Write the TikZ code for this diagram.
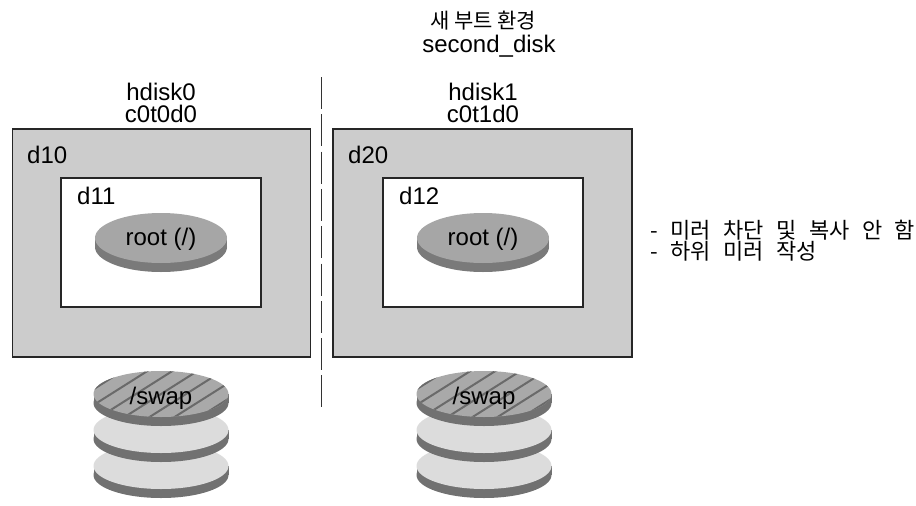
\documentclass[tikz,border=0pt]{standalone}
\usepackage{fontspec}
\setmainfont{Liberation Sans}
\newfontfamily\kr{Noto Sans CJK KR}
\newcommand\mynotefont{\kr\fontsize{22}{26}\selectfont\spaceskip 12.5pt\relax}
\definecolor{boxgray}{HTML}{CCCCCC}
\definecolor{rootface}{HTML}{A6A6A6}
\definecolor{rootrim}{HTML}{7A7A7A}
\definecolor{swaptop}{HTML}{A9A9A9}
\definecolor{hatchc}{HTML}{6A6A6A}
\definecolor{diskface}{HTML}{DCDCDC}
\definecolor{diskrim}{HTML}{717171}
\definecolor{dashc}{HTML}{333333}
\tikzset{
  outerbox/.style={draw=black!85, line width=1.2pt, fill=boxgray},
  innerbox/.style={draw=black!85, line width=1.2pt, fill=white},
  lat/.style={font=\fontsize{24}{28}\selectfont, inner sep=0pt},
  kor/.style={font=\kr\fontsize{21}{25}\selectfont, inner sep=0pt},
  kornote/.style={font=\mynotefont, inner sep=0pt},
  dashline/.style={draw=dashc, line width=1.4pt, dash pattern=on 32pt off 5.3pt},
  hatchline/.style={draw=hatchc, line width=2pt}
}
\newcommand\myrootdisk[2]{%
  \fill[rootrim] (#1,#2+9) ellipse [x radius=66, y radius=25];
  \fill[rootrim] (#1-66,#2) rectangle (#1+66,#2+9);
  \fill[rootface] (#1,#2) ellipse [x radius=66, y radius=25];
}
\newcommand\mydisk[3]{%
  \fill[diskrim] (#1,#2+9) ellipse [x radius=67.5, y radius=23];
  \fill[diskrim] (#1-67.5,#2) rectangle (#1+67.5,#2+9);
  \fill[#3] (#1,#2) ellipse [x radius=67.5, y radius=23];
}
\newcommand\myhatch[2]{%
  \begin{scope}
    \clip (#1,#2) ellipse [x radius=67.5, y radius=23];
    \foreach \i in {-3,...,3} {
      \draw[hatchline] (#1+\i*25-38,#2+24) -- ++(76,-48);
    }
  \end{scope}
}
\begin{document}
\begin{tikzpicture}[x=1pt,y=-1pt]
\useasboundingbox (0,0) rectangle (916,506);

% boxes
\draw[outerbox] (12.5,129) rectangle (310.5,357);
\draw[innerbox] (61,178) rectangle (261,307);
\draw[outerbox] (333,129) rectangle (632,357);
\draw[innerbox] (383,178) rectangle (583,307);

% dashed separator
\coordinate (septop) at (321.7,77);
\coordinate (sepbot) at (321.7,407.4);
\draw[dashline] (septop) -- (sepbot);

% root disks
\myrootdisk{161}{238}
\node[lat] (root0) at (161,239) {root (/)};
\myrootdisk{483}{238}
\node[lat] (root1) at (483,239) {root (/)};

% swap stacks
\mydisk{161}{466}{diskface}
\mydisk{161}{430}{diskface}
\mydisk{161}{394}{swaptop}
\myhatch{161}{394}
\node[lat, anchor=base] (swap0) at (161,404) {/swap};

\mydisk{484}{466}{diskface}
\mydisk{484}{430}{diskface}
\mydisk{484}{394}{swaptop}
\myhatch{484}{394}
\node[lat, anchor=base] (swap1) at (484,404) {/swap};

% labels
\node[lat, anchor=base] (hd0) at (161,100) {hdisk0};
\node[lat, anchor=base] (ct0) at (161,122) {c0t0d0};
\node[lat, anchor=base] (hd1) at (483,100) {hdisk1};
\node[lat, anchor=base] (ct1) at (483,122) {c0t1d0};
\node[kor, anchor=base] (newbe) at (483,28) {새 부트 환경};
\node[lat, anchor=base] (sd) at (489,52) {second\_disk};

\node[lat, anchor=base west] (d10) at (27,163) {d10};
\node[lat, anchor=base west] (d11) at (77,204) {d11};
\node[lat, anchor=base west] (d20) at (348,163) {d20};
\node[lat, anchor=base west] (d12) at (399,204) {d12};

\node[kornote, anchor=base west] (note1) at (650,238) {- 미러 차단 및 복사 안 함};
\node[kornote, anchor=base west] (note2) at (650,259) {- 하위 미러 작성};
\end{tikzpicture}
\end{document}
